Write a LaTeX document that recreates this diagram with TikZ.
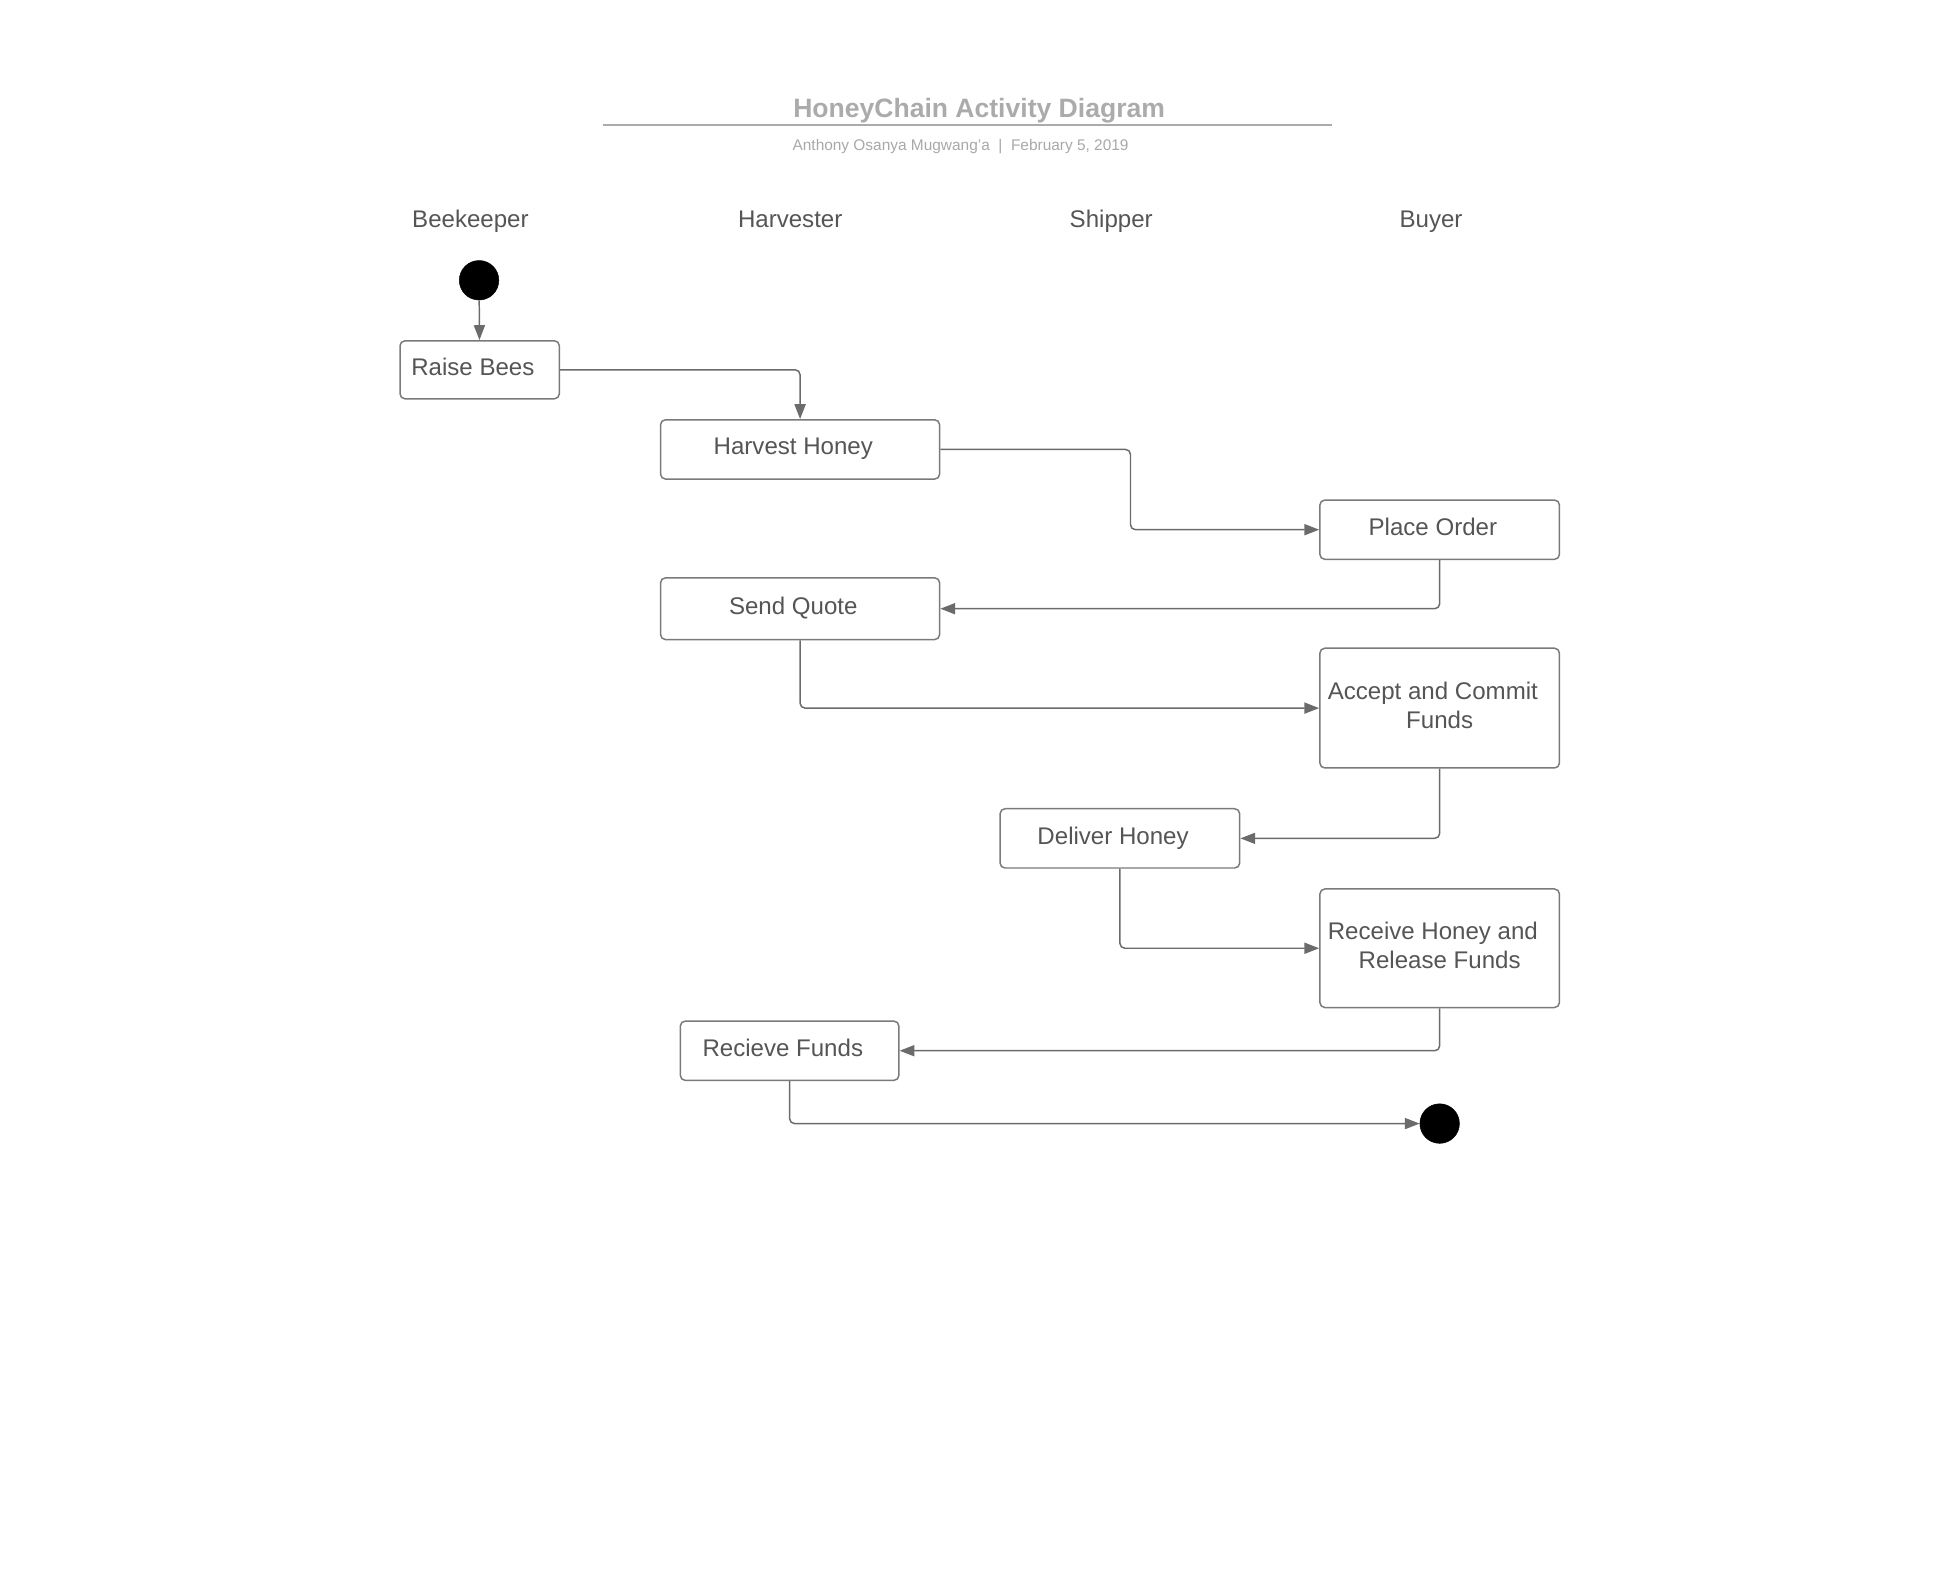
\documentclass[tikz,border=0pt]{standalone}
\usepackage{fontspec}
\setmainfont{Liberation Sans}
\usetikzlibrary{arrows.meta,positioning}
\definecolor{titlegray}{HTML}{ABABAB}
\definecolor{subgray}{HTML}{A8A8A8}
\definecolor{textgray}{HTML}{555555}
\definecolor{linegray}{HTML}{6B6B6B}
\definecolor{boxgray}{HTML}{7A7A7A}
\newcommand{\rpad}{\hspace*{11pt}}
\tikzset{
	activity/.style={draw=boxgray, line width=1.2pt, rounded corners=4pt,
		fill=white, text=textgray, align=center, inner sep=0pt, text depth=4.5pt,
		font=\fontsize{19.5}{23.5}\selectfont},
	lane/.style={text=textgray, anchor=base, font=\fontsize{19.5}{23.5}\selectfont},
	terminal/.style={circle, fill=black, draw=black, minimum size=32pt,
		inner sep=0pt},
	flow/.style={draw=linegray, line width=1.2pt, rounded corners=4pt,
		-{Triangle[length=12pt,width=9pt]}}
}
\begin{document}
\begin{tikzpicture}[x=1pt, y=-1pt]
	\useasboundingbox (0,0) rectangle (1568,1271);
	% Titel
	\node[text=titlegray, anchor=base, font=\fontsize{21.5}{26}\selectfont\bfseries]
		(title) at (793, 95.5) {HoneyChain Activity Diagram};
	\draw[titlegray, line width=1.5pt] (488, 101) -- (1079, 101);
	\node[text=subgray, anchor=base, font=\fontsize{12.5}{15}\selectfont]
		(subtitle) at (778, 121.5) {Anthony Osanya Mugwang'a \ | \ February 5, 2019};

	% Bahnen oben
	\foreach \name/\x in {Beekeeper/381, Harvester/640, Shipper/900, Buyer/1159}
		\node[lane] (lane-\name) at (\x, 184) {\name};

	% Aktivitäten
	\node[terminal] (start) at (388, 227) {};
	\node[activity, minimum width=129pt, minimum height=47pt]
		(raise) at (388.5, 299.5) {Raise Bees\rpad};
	\node[activity, minimum width=226pt, minimum height=48pt]
		(harvest) at (648, 364) {Harvest Honey\rpad};
	\node[activity, minimum width=194pt, minimum height=48pt]
		(order) at (1166, 429) {Place Order\rpad};
	\node[activity, minimum width=226pt, minimum height=50pt]
		(quote) at (648, 493) {Send Quote\rpad};
	\node[activity, minimum width=194pt, minimum height=97pt]
		(accept) at (1166, 573.5) {Accept and Commit\rpad\\Funds};
	\node[activity, minimum width=194pt, minimum height=48pt]
		(deliver) at (907, 679) {Deliver Honey\rpad};
	\node[activity, minimum width=194pt, minimum height=96pt]
		(receive) at (1166, 768) {Receive Honey and\rpad\\Release Funds};
	\node[activity, minimum width=177pt, minimum height=48pt]
		(funds) at (639.5, 851) {Recieve Funds\rpad};
	\node[terminal] (end) at (1166, 910) {};

	% Übergänge
	\draw[flow] (start) -- (raise);
	\draw[flow] (raise.east) -| (harvest.north);
	\draw[flow] (harvest.east) -- ++(154, 0) |- (order.west);
	\draw[flow] (order.south) |- (quote.east);
	\draw[flow] (quote.south) |- (accept.west);
	\draw[flow] (accept.south) |- (deliver.east);
	\draw[flow] (deliver.south) |- (receive.west);
	\draw[flow] (receive.south) |- (funds.east);
	\draw[flow] (funds.south) |- (end.west);
\end{tikzpicture}
\end{document}
